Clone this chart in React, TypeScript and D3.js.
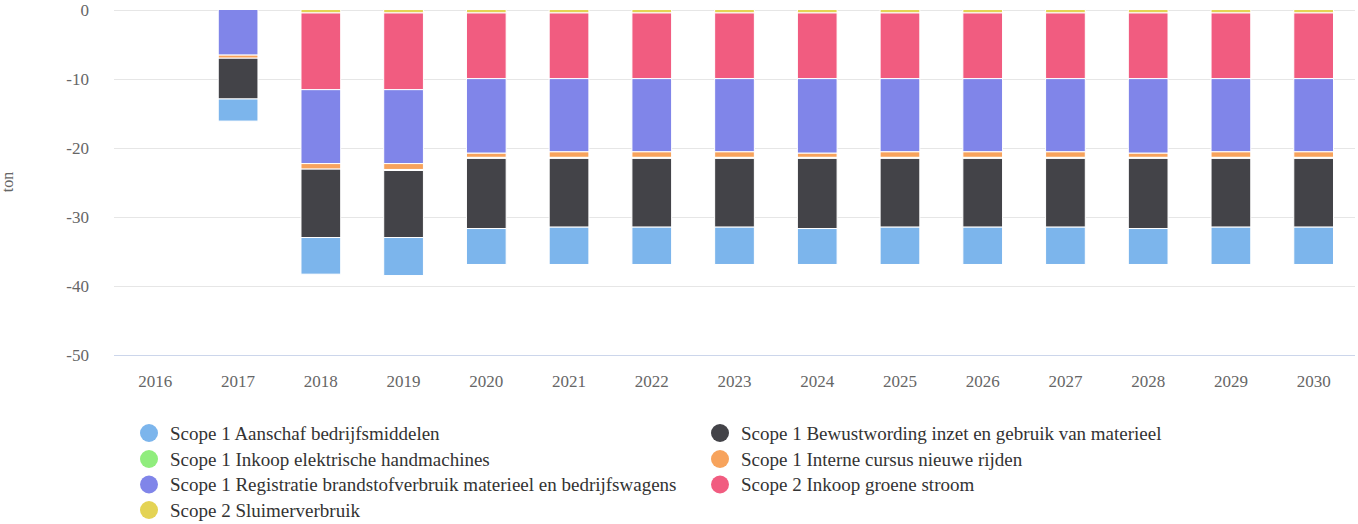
import React from "react";
import * as d3 from "d3";

// Stacked (negative) bars of CO2 reduction per measure, 2016-2030.
const years = ["2016", "2017", "2018", "2019", "2020", "2021", "2022", "2023", "2024", "2025", "2026", "2027", "2028", "2029", "2030"];

const aanschaf = [0, -3.2, -5.3, -5.5, -5.2, -5.4, -5.4, -5.4, -5.2, -5.4, -5.4, -5.4, -5.2, -5.4, -5.4];
const bewustwording = [0, -5.9, -9.9, -9.7, -10.15, -9.95, -9.95, -9.95, -10.15, -9.95, -9.95, -9.95, -10.15, -9.95, -9.95];
const inkoopHandmachines = [0, 0, 0, -0.15, -0.15, -0.15, -0.15, -0.15, -0.15, -0.15, -0.15, -0.15, -0.15, -0.15, -0.15];
const interneCursus = [0, -0.45, -0.8, -0.85, -0.6, -0.8, -0.8, -0.8, -0.6, -0.8, -0.8, -0.8, -0.6, -0.8, -0.8];
const registratie = [0, -6.6, -10.7, -10.7, -10.8, -10.6, -10.6, -10.6, -10.8, -10.6, -10.6, -10.6, -10.8, -10.6, -10.6];
const groeneStroom = [0, 0, -11.1, -11.1, -9.5, -9.5, -9.5, -9.5, -9.5, -9.5, -9.5, -9.5, -9.5, -9.5, -9.5];
const sluimer = [0, 0, -0.5, -0.5, -0.5, -0.5, -0.5, -0.5, -0.5, -0.5, -0.5, -0.5, -0.5, -0.5, -0.5];

const yTicks = [0, -10, -20, -30, -40, -50];

const series = [
  { name: "Scope 1 Aanschaf bedrijfsmiddelen", values: aanschaf, color: "#7cb5ec" },
  { name: "Scope 1 Bewustwording inzet en gebruik van materieel", values: bewustwording, color: "#434348" },
  { name: "Scope 1 Inkoop elektrische handmachines", values: inkoopHandmachines, color: "#90ed7d" },
  { name: "Scope 1 Interne cursus nieuwe rijden", values: interneCursus, color: "#f7a35c" },
  { name: "Scope 1 Registratie brandstofverbruik materieel en bedrijfswagens", values: registratie, color: "#8085e9" },
  { name: "Scope 2 Inkoop groene stroom", values: groeneStroom, color: "#f15c80" },
  { name: "Scope 2 Sluimerverbruik", values: sluimer, color: "#e4d354" },
];

const W = 1358;
const H = 524;

export default function App() {
  const x = d3.scaleBand().domain(years).range([114, 1355]).paddingInner(0.52).paddingOuter(0.26);
  const y = d3.scaleLinear().domain([0, -50]).range([9.5, 355]);

  const rows = years.map((yr, i) => {
    const r: Record<string, any> = { year: yr };
    series.forEach((s) => (r[s.name] = s.values[i]));
    return r;
  });
  // last series sits closest to zero
  const keys = series.map((s) => s.name).reverse();
  const stacked = d3.stack<any>().keys(keys).offset(d3.stackOffsetDiverging)(rows);
  const colorOf = (k: string) => series.find((s) => s.name === k)!.color;

  const legendCols = [149, 720];
  const legendRowY = [433, 459, 484.5, 510];

  return (
    <svg width={W} height={H} style={{ position: "absolute", left: 0, top: 0, background: "#fff", fontFamily: '"Liberation Serif", "Times New Roman", serif' }}>
      {yTicks.map((t) => (
        <g key={t}>
          <line x1={114} x2={1355} y1={Math.round(y(t)) + 0.5} y2={Math.round(y(t)) + 0.5} stroke={t === -50 ? "#ccd6eb" : "#e6e6e6"} />
          <text x={89} y={y(t) + 6} textAnchor="end" fontSize={17} fill="#666">
            {t}
          </text>
        </g>
      ))}
      <text transform="translate(13,182) rotate(-90)" textAnchor="middle" fontSize={16} fill="#666">
        ton
      </text>
      {years.map((yr) => (
        <text key={yr} x={x(yr)! + x.bandwidth() / 2} y={387} textAnchor="middle" fontSize={17} fill="#666">
          {yr}
        </text>
      ))}
      {stacked.map((layer) => (
        <g key={layer.key} fill={colorOf(layer.key)}>
          {layer.map((d, i) => {
            const top = y(d[0]);
            const bot = y(d[1]);
            if (Math.abs(bot - top) < 0.01) return null;
            return (
              <rect key={i} x={x(years[i])} y={Math.min(top, bot)} width={x.bandwidth()} height={Math.abs(bot - top)} stroke="#fff" strokeWidth={1} />
            );
          })}
        </g>
      ))}
      {series.map((s, i) => {
        const col = i % 2;
        const row = Math.floor(i / 2);
        const cx = legendCols[col];
        const cy = legendRowY[row];
        return (
          <g key={s.name}>
            <circle cx={cx} cy={cy} r={9} fill={s.color} />
            <text x={cx + 21} y={cy + 6.5} fontSize={19} fill="#333">
              {s.name}
            </text>
          </g>
        );
      })}
    </svg>
  );
}
